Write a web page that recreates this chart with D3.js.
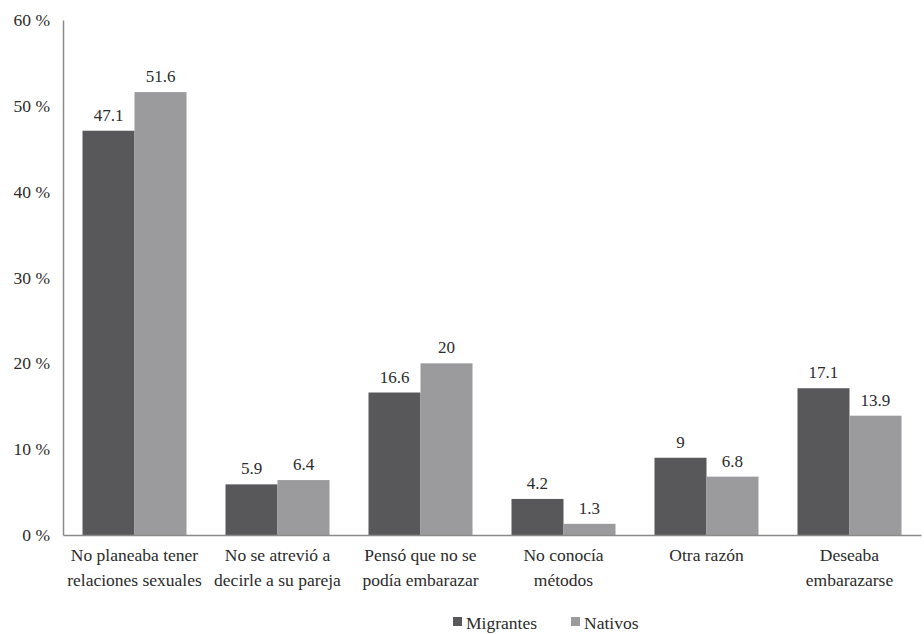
<!DOCTYPE html>
<html><head><meta charset="utf-8">
<script src="https://cdn.jsdelivr.net/npm/d3@7/dist/d3.min.js"></script>
<style>body{margin:0;background:#fff}svg{display:block}</style>
</head><body>
<svg id="c" width="924" height="634"></svg>
<script>
const categories = [
  ["No planeaba tener","relaciones sexuales"],
  ["No se atrevió a","decirle a su pareja"],
  ["Pensó que no se","podía embarazar"],
  ["No conocía","métodos"],
  ["Otra razón"],
  ["Deseaba","embarazarse"]
];
const seriesNames = ["Migrantes","Nativos"];
const migrantes = [47.1, 5.9, 16.6, 4.2, 9, 17.1];
const nativos = [51.6, 6.4, 20, 1.3, 6.8, 13.9];
const yTicks = [0,10,20,30,40,50,60];
const colors = ["#58585a","#9b9b9d"];
const FONT = "'Liberation Serif', 'DejaVu Serif', 'Noto Serif', Tinos, 'Times New Roman', Times, serif";

const svg = d3.select("#c");
const x0 = 63, x1 = 921, yBot = 535, yTop = 20;
const idx = categories.map((d,i)=>i);
const x = d3.scaleBand().domain(idx).range([x0,x1]).paddingInner(0.2727).paddingOuter(0.1364);
const xs = d3.scaleBand().domain([0,1]).range([0,x.bandwidth()]);
const y = d3.scaleLinear().domain([0,60]).range([yBot,yTop]);

const series = [migrantes, nativos];
series.forEach((vals,s)=>{
  svg.append("g").selectAll("rect").data(vals).join("rect")
    .attr("x",(d,i)=>x(i)+xs(s)).attr("width",xs.bandwidth())
    .attr("y",d=>y(d)).attr("height",d=>y(0)-y(d)).attr("fill",colors[s]);
  svg.append("g").selectAll("text").data(vals).join("text")
    .attr("x",(d,i)=>x(i)+xs(s)+xs.bandwidth()/2).attr("y",d=>y(d)-10)
    .attr("text-anchor","middle").style("font-size","17px").text(d=>String(d));
});

// y axis
const yAxis = d3.axisLeft(y).tickValues(yTicks).tickSize(0).tickPadding(13).tickFormat(d=>d+" %");
const gy = svg.append("g").attr("transform",`translate(${x0},0)`).call(yAxis);
gy.select(".domain").attr("stroke","#8a8a8a").attr("stroke-width",1.5);
gy.selectAll("text").style("font-size","17.5px");

// x axis
const xAxis = d3.axisBottom(x).tickSize(0).tickFormat("");
const gx = svg.append("g").attr("transform",`translate(0,${yBot})`).call(xAxis);
gx.select(".domain").attr("stroke","#8a8a8a").attr("stroke-width",1.5);

const lab = svg.append("g").selectAll("text").data(categories).join("text")
  .attr("x",(d,i)=>x(i)+x.bandwidth()/2).attr("y",561)
  .attr("text-anchor","middle").style("font-size","17.5px");
lab.selectAll("tspan").data(d=>d).join("tspan")
  .attr("x",function(){return this.parentNode.getAttribute("x");})
  .attr("dy",(d,i)=>i?25:0).text(d=>d);

// legend
const leg = svg.append("g");
const legX = [453, 571];
seriesNames.forEach((n,i)=>{
  leg.append("rect").attr("x",legX[i]).attr("y",617).attr("width",9).attr("height",9).attr("fill",colors[i]);
  leg.append("text").attr("x",legX[i]+13).attr("y",629).style("font-size","17.5px").text(n);
});

svg.selectAll("text").style("font-family",FONT).style("fill","#2b2b2b");
</script>
</body></html>
